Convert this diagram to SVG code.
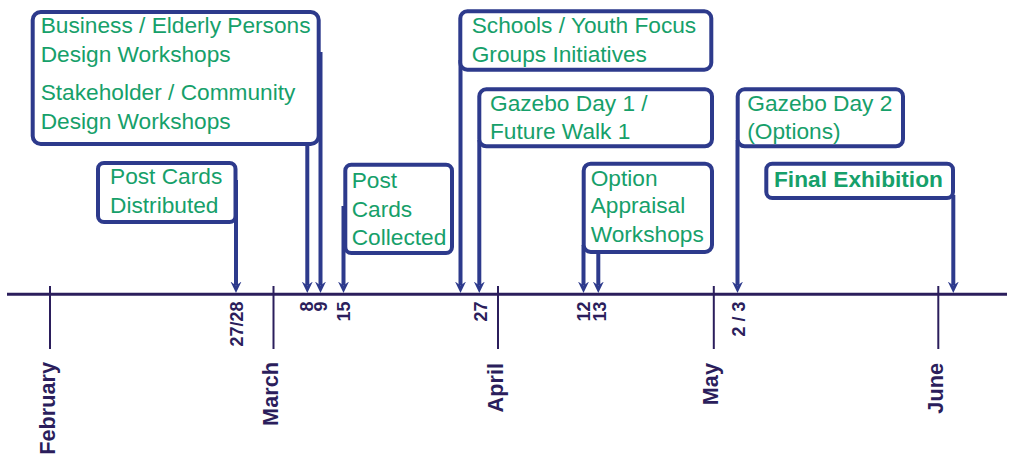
<svg xmlns="http://www.w3.org/2000/svg" width="1012" height="457" viewBox="0 0 1012 457">
<style>
.box{fill:#fff;stroke:#2D3A8C;stroke-width:4}
.t{font-family:"Liberation Sans",Arial,sans-serif;font-size:22.7px;fill:#16A06A}
.tb{font-family:"Liberation Sans",Arial,sans-serif;font-size:22.7px;font-weight:bold;fill:#16A06A}
.con{stroke:#2D3A8C;stroke-width:4;fill:none;marker-end:url(#ah)}
.tick{stroke:#2B1E5C;stroke-width:2}
.axis{stroke:#2B1E5C;stroke-width:3}
.mon{font-family:"Liberation Sans",Arial,sans-serif;font-size:21.7px;font-weight:bold;fill:#2B1E5C;text-anchor:end}
.day{font-family:"Liberation Sans",Arial,sans-serif;font-size:18px;font-weight:bold;fill:#2B1E5C;text-anchor:end}
</style>
<defs>
<marker id="ah" markerUnits="userSpaceOnUse" viewBox="-4 -6 12 12" markerWidth="12" markerHeight="12" refX="0" refY="0" orient="auto">
<path d="M-4,-5.5 L7.5,0 L-4,5.5 L0,0 Z" fill="#2D3A8C"/>
</marker>
</defs>

<g id="axis">
<line class="axis" x1="7" y1="294.3" x2="1007" y2="294.3"/>
<line class="tick" x1="50" y1="286" x2="50" y2="349"/>
<line class="tick" x1="273.5" y1="286" x2="273.5" y2="349"/>
<line class="tick" x1="498" y1="286" x2="498" y2="349"/>
<line class="tick" x1="713.8" y1="286" x2="713.8" y2="349"/>
<line class="tick" x1="938.3" y1="286" x2="938.3" y2="349"/>
<text class="mon" transform="translate(54.5,362) rotate(-90)">February</text>
<text class="mon" transform="translate(278,362) rotate(-90)">March</text>
<text class="mon" transform="translate(502.5,363) rotate(-90)">April</text>
<text class="mon" transform="translate(718,363) rotate(-90)">May</text>
<text class="mon" transform="translate(943,363) rotate(-90)">June</text>
<text class="day" transform="translate(242.5,301.5) rotate(-90)">27/28</text>
<text class="day" transform="translate(313,301.5) rotate(-90)">8</text>
<text class="day" transform="translate(327,301.5) rotate(-90)">9</text>
<text class="day" transform="translate(350,301.5) rotate(-90)">15</text>
<text class="day" transform="translate(486.5,301.5) rotate(-90)">27</text>
<text class="day" transform="translate(590,301.5) rotate(-90)">12</text>
<text class="day" transform="translate(605.5,301.5) rotate(-90)">13</text>
<text class="day" transform="translate(744.5,301.5) rotate(-90)">2 / 3</text>
</g>

<g id="connectors">
<line class="con" x1="236" y1="180" x2="236" y2="285.5"/>
<line class="con" x1="307.3" y1="146" x2="307.3" y2="285.5"/>
<line class="con" x1="320.5" y1="52" x2="320.5" y2="285.5"/>
<line class="con" x1="343.5" y1="206" x2="343.5" y2="285.5"/>
<line class="con" x1="460.5" y1="60" x2="460.5" y2="285.5"/>
<line class="con" x1="479.3" y1="140" x2="479.3" y2="285.5"/>
<line class="con" x1="583.5" y1="245" x2="583.5" y2="285.5"/>
<line class="con" x1="598.3" y1="254" x2="598.3" y2="285.5"/>
<line class="con" x1="737.5" y1="140" x2="737.5" y2="285.5"/>
<line class="con" x1="953.3" y1="195" x2="953.3" y2="285.5"/>
</g>

<g id="node-design-workshops">
<rect class="box" x="32.7" y="12" width="286" height="132" rx="8"/>
<text class="t" x="40.7" y="33.3">Business / Elderly Persons</text>
<text class="t" x="40.7" y="62.3">Design Workshops</text>
<text class="t" x="40.7" y="100">Stakeholder / Community</text>
<text class="t" x="40.7" y="128.5">Design Workshops</text>
</g>

<g id="node-postcards-distributed">
<rect class="box" x="98" y="163" width="137.5" height="59" rx="6"/>
<text class="t" x="110" y="184.3">Post Cards</text>
<text class="t" x="110" y="213.3">Distributed</text>
</g>

<g id="node-postcards-collected">
<rect class="box" x="345.3" y="164.7" width="106.7" height="88.3" rx="6"/>
<text class="t" x="351.7" y="188.3">Post</text>
<text class="t" x="351.7" y="216.7">Cards</text>
<text class="t" x="351.7" y="245">Collected</text>
</g>

<g id="node-schools">
<rect class="box" x="460.3" y="11.3" width="251" height="58.4" rx="7"/>
<text class="t" x="471.7" y="33.3">Schools / Youth Focus</text>
<text class="t" x="471.7" y="62.3">Groups Initiatives</text>
</g>

<g id="node-gazebo1">
<rect class="box" x="479.3" y="89.3" width="232.7" height="57" rx="7"/>
<text class="t" x="490" y="110.7">Gazebo Day 1 /</text>
<text class="t" x="490" y="139.3">Future Walk 1</text>
</g>

<g id="node-option-appraisal">
<rect class="box" x="583.7" y="163.7" width="128.3" height="88.3" rx="7"/>
<text class="t" x="590.7" y="185.7">Option</text>
<text class="t" x="590.7" y="213.3">Appraisal</text>
<text class="t" x="590.7" y="242.3">Workshops</text>
</g>

<g id="node-gazebo2">
<rect class="box" x="737.7" y="89.3" width="165.3" height="57" rx="7"/>
<text class="t" x="747.3" y="110.7">Gazebo Day 2</text>
<text class="t" x="747.3" y="139.3">(Options)</text>
</g>

<g id="node-final-exhibition">
<rect class="box" x="766.3" y="163.7" width="186.7" height="34.3" rx="6"/>
<text class="tb" x="774" y="186.7">Final Exhibition</text>
</g>
</svg>
